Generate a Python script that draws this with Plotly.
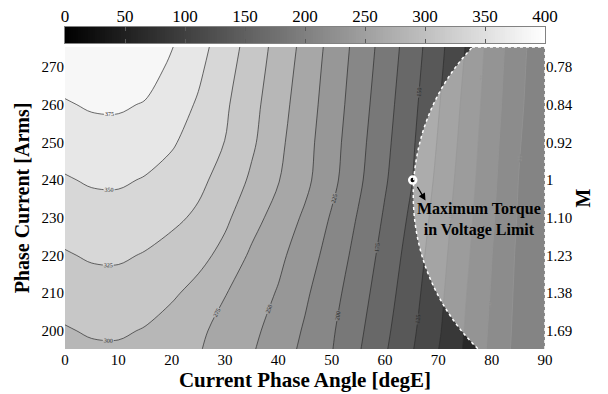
import plotly.graph_objects as go

# Current phase angle [degE] (grid columns)
beta = [0, 5, 10, 15, 20, 25, 30, 35, 40, 45, 50, 55, 60, 65, 70, 75, 80, 85, 90]
# Phase current [Arms] (grid rows)
current = [190, 200, 210, 220, 230, 240, 250, 260, 270, 280]
# Torque map values (rows follow `current`)
torque = [
    [285.5, 290.0, 290.5, 286.0, 281.0, 274.3, 261.9, 249.4, 233.5, 216.9, 199.0, 174.5, 149.5, 124.0, 97.3, 70.7, 43.3, 15.6, 0.0],
    [298.0, 302.5, 303.0, 298.5, 289.0, 279.0, 267.8, 255.4, 240.1, 222.3, 203.1, 180.2, 155.5, 129.7, 103.2, 73.9, 45.6, 17.8, 0.0],
    [310.5, 315.0, 315.5, 311.0, 303.7, 292.0, 276.0, 262.2, 248.1, 228.8, 208.6, 185.8, 161.0, 134.4, 106.7, 76.8, 48.3, 19.2, 0.0],
    [323.0, 327.5, 328.0, 323.5, 316.0, 307.5, 292.6, 270.8, 255.7, 236.9, 215.2, 191.8, 166.3, 139.3, 110.2, 80.5, 50.6, 20.8, 0.0],
    [335.5, 340.0, 340.5, 336.0, 330.0, 321.0, 304.8, 284.3, 264.6, 246.2, 222.5, 197.9, 171.9, 145.0, 114.3, 83.8, 53.6, 23.2, 1.0],
    [348.0, 352.5, 353.0, 348.5, 341.0, 330.5, 316.1, 296.0, 276.2, 256.0, 231.8, 204.9, 177.7, 151.1, 118.8, 87.5, 56.3, 25.0, 2.0],
    [360.5, 365.0, 365.5, 361.0, 352.7, 339.5, 324.6, 304.1, 280.8, 258.6, 234.7, 208.2, 181.4, 153.9, 123.1, 90.8, 58.8, 27.5, 3.0],
    [373.0, 377.5, 378.0, 373.5, 361.5, 347.4, 328.7, 307.8, 284.9, 261.8, 237.8, 211.7, 184.8, 157.2, 126.9, 94.1, 61.5, 30.5, 4.0],
    [385.5, 390.0, 390.5, 386.0, 371.0, 354.8, 334.3, 312.3, 289.2, 265.2, 240.5, 214.9, 188.3, 160.5, 131.0, 97.9, 63.8, 32.7, 5.0],
    [398.0, 402.5, 403.0, 398.5, 380.4, 361.7, 341.0, 317.2, 293.1, 269.3, 243.5, 218.1, 191.5, 164.0, 134.5, 102.0, 66.4, 35.1, 7.0],
]

# Left axis ticks and right-axis modulation index labels
current_ticks = [200, 210, 220, 230, 240, 250, 260, 270]
m_labels = ["1.69", "1.38", "1.23", "1.10", "1", "0.92", "0.84", "0.78"]
angle_ticks = [0, 10, 20, 30, 40, 50, 60, 70, 80, 90]
cbar_ticks = [0, 50, 100, 150, 200, 250, 300, 350, 400]
cbar_min, cbar_max = 0, 400

# Maximum torque point within the voltage limit
max_point_beta = [65.2]
max_point_current = [240]

# Voltage-limit ellipse (data coordinates)
vl_beta = [65.3, 145.9]
vl_current = [179.0, 293.0]

SERIF = "Liberation Serif, Times New Roman, serif"
Y_RANGE = [195.2, 275.3]
GRAY = [[0, "rgb(0,0,0)"], [1, "rgb(255,255,255)"]]

W, H = 608, 394
M_L, M_R, M_T, M_B = 65, 63, 10, 45
PH = H - M_T - M_B


def yfrac(px_from_top):
    return (H - M_B - px_from_top) / PH


fig = go.Figure()

fig.add_trace(go.Contour(
    x=beta, y=current, z=torque,
    zmin=cbar_min, zmax=cbar_max,
    colorscale=GRAY, showscale=False,
    contours=dict(start=0, end=400, size=25, coloring="fill",
                  showlabels=True,
                  labelfont=dict(size=6, color="rgb(40,40,40)", family=SERIF)),
    line=dict(color="rgb(45,45,45)", width=0.7),
    hoverinfo="skip",
))

# smooth colour bar drawn as a one-row heatmap on its own axes
grad = list(range(cbar_min, cbar_max + 1, 2))
fig.add_trace(go.Heatmap(
    x=grad, y=[0], z=[grad], zmin=cbar_min, zmax=cbar_max,
    colorscale=GRAY, showscale=False, xaxis="x3", yaxis="y3", hoverinfo="skip",
))

# dummy trace to activate the right axis
fig.add_trace(go.Scatter(x=[None], y=[None], yaxis="y2", showlegend=False))

fig.add_trace(go.Scatter(
    x=max_point_beta, y=max_point_current, mode="markers",
    marker=dict(size=7, color="black", line=dict(color="white", width=2.5)),
    showlegend=False, hoverinfo="skip",
))

fig.add_shape(type="circle", xref="x", yref="y",
              x0=vl_beta[0], x1=vl_beta[1], y0=vl_current[0], y1=vl_current[1],
              fillcolor="rgba(255,255,255,0.5)",
              line=dict(color="white", width=1.5, dash="dot"), layer="above")
fig.add_shape(type="line", xref="x", yref="y", x0=76.3, x1=90, y0=Y_RANGE[1], y1=Y_RANGE[1],
              line=dict(color="white", width=1.5, dash="dot"))
fig.add_shape(type="line", xref="x", yref="y", x0=90, x1=90, y0=Y_RANGE[0], y1=Y_RANGE[1],
              line=dict(color="white", width=1.5, dash="dot"))

fig.add_annotation(x=67.6, y=234.6, ax=65.9, ay=238.6, xref="x", yref="y",
                   axref="x", ayref="y", text="", showarrow=True,
                   arrowhead=2, arrowsize=1.2, arrowwidth=1.2, arrowcolor="black")
fig.add_annotation(x=77.6, y=229.6, xref="x", yref="y", showarrow=False,
                   text="<b>Maximum Torque</b><br><b>in Voltage Limit</b>",
                   font=dict(family=SERIF, size=16, color="black"), align="center")

main_dom = [0, yfrac(47)]
cb_dom = [yfrac(43), yfrac(27)]

fig.update_layout(
    width=W, height=H,
    margin=dict(l=M_L, r=M_R, t=M_T, b=M_B, autoexpand=False),
    paper_bgcolor="white", plot_bgcolor="white",
    font=dict(family=SERIF, color="black"),
    showlegend=False,
    xaxis=dict(range=[0, 90], tickvals=angle_ticks, showgrid=False, zeroline=False,
               showline=False, ticks="", ticklabelstandoff=0, automargin=False,
               tickfont=dict(family=SERIF, size=15, color="black"),
               title=dict(text="<b>Current Phase Angle [degE]</b>", standoff=0,
                          font=dict(family=SERIF, size=21, color="black"))),
    yaxis=dict(range=Y_RANGE, domain=main_dom, tickvals=current_ticks, showgrid=False,
               zeroline=False, showline=False, ticks="", automargin=False,
               tickfont=dict(family=SERIF, size=15, color="black"),
               title=dict(text="<b>Phase Current [Arms]</b>", standoff=6,
                          font=dict(family=SERIF, size=20, color="black"))),
    yaxis2=dict(range=Y_RANGE, domain=main_dom, overlaying="y", side="right",
                tickvals=current_ticks, ticktext=m_labels, automargin=False,
                showgrid=False, zeroline=False, showline=False, ticks="",
                tickfont=dict(family=SERIF, size=15, color="black"),
                title=dict(text="<b>M</b>", standoff=4,
                           font=dict(family=SERIF, size=20, color="black"))),
    xaxis3=dict(domain=[0, 1], anchor="y3", range=[cbar_min, cbar_max], side="top",
                tickvals=cbar_ticks, ticks="inside", ticklen=4, tickcolor="rgb(90,90,90)",
                ticklabelstandoff=-3,
                showline=True, mirror="ticks", linecolor="rgb(130,130,130)", linewidth=1,
                showgrid=False, zeroline=False, automargin=False,
                tickfont=dict(family=SERIF, size=17, color="black")),
    yaxis3=dict(domain=cb_dom, anchor="x3", range=[-0.5, 0.5], showticklabels=False,
                ticks="", showline=True, mirror=True, linecolor="rgb(130,130,130)",
                linewidth=1, showgrid=False, zeroline=False, automargin=False),
)

fig.write_html("out.html",
               config={"displayModeBar": False, "staticPlot": True},
               post_script="document.body.style.margin='0';document.body.style.overflow='hidden';")
